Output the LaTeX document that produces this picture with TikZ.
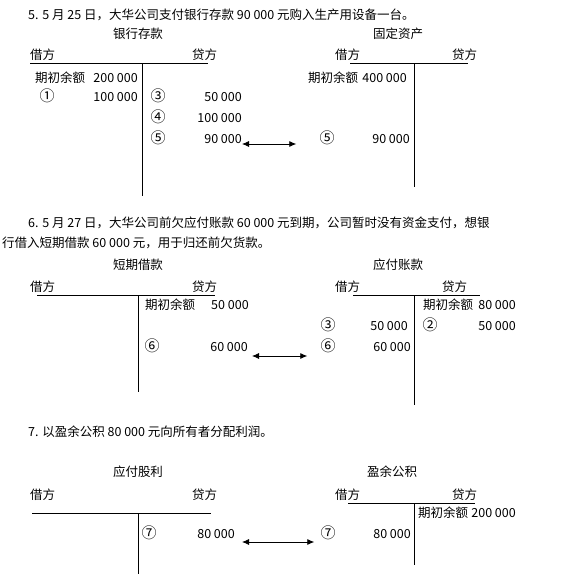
\documentclass[tikz,border=0pt]{standalone}
\usepackage{fontspec}
\setmainfont{Noto Sans CJK SC}
\usepackage{tikz}
\usetikzlibrary{arrows.meta}

\begin{document}
\begin{tikzpicture}[x=1pt, y=-1pt]
  \tikzstyle{txt}=[inner sep=0pt, font=\fontsize{12.5}{15}\selectfont,
    text height=11pt, text depth=1.5pt]
  \tikzstyle{lft}=[txt, anchor=west]
  \tikzstyle{amt}=[txt, anchor=east]
  \tikzstyle{num}=[txt, font=\fontsize{15}{18}\selectfont]
  \tikzstyle{tline}=[line width=0.8pt]
  \tikzstyle{pair}=[{Latex[length=7pt,width=6pt]}-{Latex[length=7pt,width=6pt]},
    line width=0.8pt]

  \useasboundingbox (0,0) rectangle (563,574);

  % 5
  \node[lft] (t5) at (28,15)
    {5. 5 月 25 日，大华公司支付银行存款 90 000 元购入生产用设备一台。};
  \node[txt] (bkName) at (138,34) {银行存款};
  \node[txt] (faName) at (398,34) {固定资产};

  \node[lft] (bkDr) at (30,55) {借方};
  \node[lft] (bkCr) at (192,55) {贷方};
  \draw[tline] (30,63) -- (208,63);
  \draw[tline] (142,63) -- (142,196);
  \node[lft] (bkOpen) at (35,78) {期初余额};
  \node[amt] (bkOpenAmt) at (138,78) {200 000};
  \node[num] (bk1No) at (47,97) {①};
  \node[amt] (bk1Amt) at (138,97) {100 000};
  \node[num] (bk3No) at (158,97) {③};
  \node[amt] (bk3Amt) at (242,97) {50 000};
  \node[num] (bk4No) at (158,118) {④};
  \node[amt] (bk4Amt) at (242,118) {100 000};
  \node[num] (bk5No) at (158,139) {⑤};
  \node[amt] (bk5Amt) at (242,139) {90 000};

  \node[lft] (faDr) at (335,55) {借方};
  \node[lft] (faCr) at (452,55) {贷方};
  \draw[tline] (350,63) -- (468,63);
  \draw[tline] (414,63) -- (414,187);
  \node[lft] (faOpen) at (308,78) {期初余额};
  \node[amt] (faOpenAmt) at (407,78) {400 000};
  \node[num] (fa5No) at (327,139) {⑤};
  \node[amt] (fa5Amt) at (410,139) {90 000};

  \draw[pair] ([yshift=-5pt]bk5Amt.east) -- ([xshift=-23pt,yshift=-5pt]fa5No.west);

  % 6
  \node[lft] (t6a) at (28,223)
    {6. 5 月 27 日，大华公司前欠应付账款 60 000 元到期，公司暂时没有资金支付，想银};
  \node[lft] (t6b) at (2,243)
    {行借入短期借款 60 000 元，用于归还前欠货款。};
  \node[txt] (stName) at (138,265) {短期借款};
  \node[txt] (apName) at (398,265) {应付账款};

  \node[lft] (stDr) at (30,287) {借方};
  \node[lft] (stCr) at (192,287) {贷方};
  \draw[tline] (37,295) -- (215,295);
  \draw[tline] (138,295) -- (138,392);
  \node[lft] (stOpen) at (145,305) {期初余额};
  \node[lft] (stOpenAmt) at (211,305) {50 000};
  \node[num] (st6No) at (152,347) {⑥};
  \node[amt] (st6Amt) at (248,347) {60 000};

  \node[lft] (apDr) at (335,287) {借方};
  \node[lft] (apCr) at (442,287) {贷方};
  \draw[tline] (353,295) -- (480,295);
  \draw[tline] (414,295) -- (414,405);
  \node[lft] (apOpen) at (423,305) {期初余额};
  \node[amt] (apOpenAmt) at (516,305) {80 000};
  \node[num] (ap3No) at (328,326) {③};
  \node[amt] (ap3Amt) at (408,326) {50 000};
  \node[num] (ap2No) at (430,326) {②};
  \node[amt] (ap2Amt) at (516,326) {50 000};
  \node[num] (ap6No) at (328,347) {⑥};
  \node[amt] (ap6Amt) at (411,347) {60 000};

  \draw[pair] ([xshift=4pt,yshift=-9pt]st6Amt.east) -- ([xshift=-13pt,yshift=-9pt]ap6No.west);

  % 7
  \node[lft] (t7) at (28,432) {7. 以盈余公积 80 000 元向所有者分配利润。};
  \node[txt] (dpName) at (138,472) {应付股利};
  \node[txt] (srName) at (392,472) {盈余公积};

  \node[lft] (dpDr) at (30,495) {借方};
  \node[lft] (dpCr) at (192,495) {贷方};
  \draw[tline] (32,513) -- (211,513);
  \draw[tline] (138,513) -- (138,574);
  \node[num] (dp7No) at (149,534) {⑦};
  \node[amt] (dp7Amt) at (235,534) {80 000};

  \node[lft] (srDr) at (335,495) {借方};
  \node[lft] (srCr) at (452,495) {贷方};
  \draw[tline] (348,503) -- (475,503);
  \draw[tline] (414,503) -- (414,565);
  \node[lft] (srOpen) at (418,513) {期初余额};
  \node[amt] (srOpenAmt) at (516,513) {200 000};
  \node[num] (sr7No) at (328,534) {⑦};
  \node[amt] (sr7Amt) at (411,534) {80 000};

  \draw[pair] ([xshift=7pt,yshift=-8pt]dp7Amt.east) -- ([xshift=-6pt,yshift=-8pt]sr7No.west);
\end{tikzpicture}
\end{document}
